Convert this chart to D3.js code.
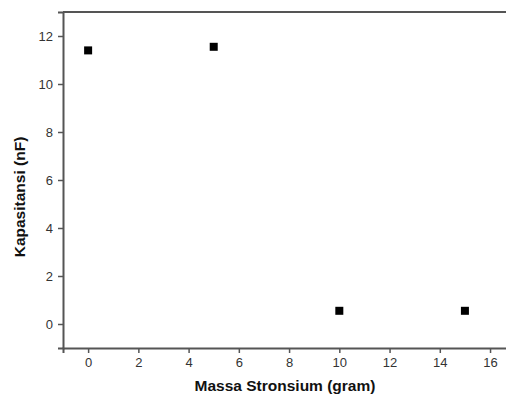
<!DOCTYPE html>
<html>
<head>
<meta charset="utf-8">
<script src="https://cdn.jsdelivr.net/npm/d3@7"></script>
<style>
  body { margin: 0; background: #fff; }
  svg { display: block; }
</style>
</head>
<body>
<div id="hook"></div>
<script>
(function () {
    var w = 506;
    var h = 402;

    // data
    var massa = [0, 5, 10, 15];
    var kapasitansi = [11.4, 11.55, 0.55, 0.55];
    var xTicks = [0, 2, 4, 6, 8, 10, 12, 14, 16];
    var yTicks = [0, 2, 4, 6, 8, 10, 12];

    var left = 63, top = 12, bottom = 348;

    var x = d3.scaleLinear().domain([-1, 17]).range([left, left + 18 * 25.12]);
    var y = d3.scaleLinear().domain([-1, 13]).range([bottom, top]);

    var svg = d3.select("#hook")
        .append("svg")
        .attr("width", w)
        .attr("height", h);

    var axisColor = "#555";
    var font = "Arial, 'Liberation Sans', sans-serif";

    // x axis
    var gx = svg.append("g")
        .attr("transform", "translate(0," + bottom + ")")
        .call(d3.axisBottom(x).tickValues(xTicks).tickSize(5).tickPadding(5).tickFormat(d3.format("d")));

    // y axis
    var gy = svg.append("g")
        .attr("transform", "translate(" + left + ",0)")
        .call(d3.axisLeft(y).tickValues(yTicks).tickSize(5).tickPadding(5).tickFormat(d3.format("d")));

    [gx, gy].forEach(function (g) {
        g.select(".domain").attr("stroke", axisColor).attr("stroke-width", 2);
        g.selectAll(".tick line").attr("stroke", axisColor).attr("stroke-width", 1.5);
        g.selectAll(".tick text")
            .attr("fill", "#333")
            .style("font-family", font)
            .style("font-size", "13px");
    });

    // top frame line
    svg.append("line")
        .attr("x1", left)
        .attr("x2", w)
        .attr("y1", top)
        .attr("y2", top)
        .attr("stroke", axisColor)
        .attr("stroke-width", 2);

    // points
    svg.selectAll("rect.pt")
        .data(massa)
        .enter()
        .append("rect")
        .attr("class", "pt")
        .attr("x", function (d) { return x(d) - 4; })
        .attr("y", function (d, i) { return y(kapasitansi[i]) - 4; })
        .attr("width", 8)
        .attr("height", 8)
        .style("fill", "#000");

    // axis labels
    svg.append("text")
        .text("Massa Stronsium (gram)")
        .attr("x", 285)
        .attr("y", 391)
        .attr("text-anchor", "middle")
        .style("font-family", font)
        .style("font-weight", "bold")
        .style("font-size", "15.5px")
        .attr("fill", "#111");

    svg.append("text")
        .text("Kapasitansi (nF)")
        .attr("transform", "translate(25,197) rotate(-90)")
        .attr("text-anchor", "middle")
        .style("font-family", font)
        .style("font-weight", "bold")
        .style("font-size", "15.5px")
        .attr("fill", "#111");
})();
</script>
</body>
</html>
